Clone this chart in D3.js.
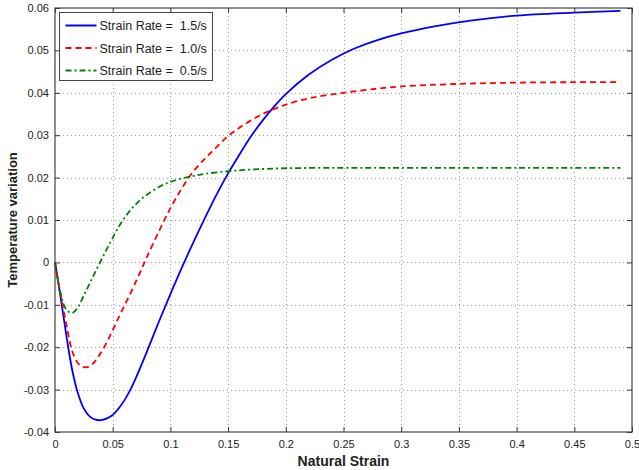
<!DOCTYPE html>
<html>
<head>
<meta charset="utf-8">
<script src="https://cdn.jsdelivr.net/npm/d3@7"></script>
<style>
  html, body { margin: 0; padding: 0; background: #fff; }
  svg { display: block; font-family: "Liberation Sans", Arial, sans-serif; }
</style>
</head>
<body>
<svg id="chart" width="639" height="470"></svg>
<script>
// Temperature variation against natural strain for three strain rates
const xTicks = [0, 0.05, 0.1, 0.15, 0.2, 0.25, 0.3, 0.35, 0.4, 0.45, 0.5];
const yTicks = [-0.04, -0.03, -0.02, -0.01, 0, 0.01, 0.02, 0.03, 0.04, 0.05, 0.06];
const seriesNames = ["Strain Rate =  1.5/s", "Strain Rate =  1.0/s", "Strain Rate =  0.5/s"];

const rate15 = [
  [0, 0], [0.005, -0.0085], [0.01, -0.0175], [0.015, -0.0255], [0.02, -0.031],
  [0.025, -0.0345], [0.03, -0.0363], [0.035, -0.0371], [0.04, -0.0372], [0.045, -0.0368],
  [0.05, -0.036], [0.055, -0.0345], [0.06, -0.0326], [0.065, -0.0302], [0.07, -0.0273],
  [0.08, -0.0208], [0.09, -0.014], [0.1, -0.0075], [0.11, -0.0012], [0.12, 0.0048],
  [0.13, 0.0105], [0.14, 0.016], [0.15, 0.021], [0.16, 0.0255], [0.17, 0.0298],
  [0.18, 0.0335], [0.19, 0.0368], [0.2, 0.0397], [0.22, 0.0443], [0.24, 0.0478],
  [0.26, 0.0505], [0.28, 0.0525], [0.3, 0.054], [0.33, 0.0557], [0.36, 0.057],
  [0.4, 0.0582], [0.45, 0.0589], [0.49, 0.0593]
];
const rate10 = [
  [0, 0], [0.005, -0.0078], [0.01, -0.0148], [0.015, -0.021], [0.02, -0.0238],
  [0.025, -0.0247], [0.03, -0.0245], [0.035, -0.0232], [0.04, -0.0212], [0.045, -0.0188],
  [0.05, -0.016], [0.055, -0.0131], [0.06, -0.0103], [0.065, -0.0075], [0.07, -0.0046],
  [0.075, -0.0016], [0.08, 0.0015], [0.09, 0.0073], [0.1, 0.0128], [0.11, 0.0175],
  [0.12, 0.0215], [0.13, 0.0245], [0.14, 0.0272], [0.15, 0.0298], [0.16, 0.0318],
  [0.17, 0.0335], [0.18, 0.035], [0.19, 0.0362], [0.2, 0.0372], [0.22, 0.0387],
  [0.25, 0.04], [0.28, 0.041], [0.3, 0.0415], [0.35, 0.0421], [0.4, 0.0424],
  [0.45, 0.0425], [0.49, 0.0425]
];
const rate05 = [
  [0, 0], [0.005, -0.0075], [0.01, -0.0112], [0.015, -0.0119], [0.02, -0.0105],
  [0.025, -0.0078], [0.03, -0.005], [0.035, -0.0022], [0.04, 0.0005], [0.045, 0.0032],
  [0.05, 0.0058], [0.055, 0.0083], [0.06, 0.0104], [0.065, 0.0122], [0.07, 0.0137],
  [0.075, 0.015], [0.08, 0.016], [0.09, 0.0178], [0.1, 0.019], [0.11, 0.0198],
  [0.12, 0.0204], [0.13, 0.0209], [0.15, 0.0215], [0.17, 0.0219], [0.2, 0.0222],
  [0.25, 0.0223], [0.3, 0.0223], [0.4, 0.0223], [0.49, 0.0223]
];

const styles = [
  { color: "#0000ff", dash: null },
  { color: "#ff0000", dash: "6,4" },
  { color: "#008000", dash: "6,3,2,3" }
];
const allSeries = [rate15, rate10, rate05];

const svg = d3.select("#chart");
const plotLeft = 55, plotRight = 632, plotTop = 8, plotBottom = 432;

const x = d3.scaleLinear().domain([0, 0.5]).range([plotLeft, plotRight]);
const y = d3.scaleLinear().domain([-0.04, 0.06]).range([plotBottom, plotTop]);

// dotted grid
const grid = svg.append("g");
grid.selectAll("line.gx").data(xTicks.slice(1, -1)).join("line")
  .attr("x1", d => Math.round(x(d)) + 0.5).attr("x2", d => Math.round(x(d)) + 0.5)
  .attr("y1", plotTop).attr("y2", plotBottom)
  .attr("stroke", "#a0a0a0").attr("stroke-width", 1).attr("stroke-dasharray", "1,3");
grid.selectAll("line.gy").data(yTicks.slice(1, -1)).join("line")
  .attr("y1", d => Math.round(y(d)) + 0.5).attr("y2", d => Math.round(y(d)) + 0.5)
  .attr("x1", plotLeft).attr("x2", plotRight)
  .attr("stroke", "#a0a0a0").attr("stroke-width", 1).attr("stroke-dasharray", "1,3");

// curves
const line = d3.line().x(d => x(d[0])).y(d => y(d[1])).curve(d3.curveCatmullRom.alpha(0.5));
allSeries.forEach((s, i) => {
  svg.append("path").datum(s)
    .attr("d", line)
    .attr("fill", "none")
    .attr("stroke", styles[i].color)
    .attr("stroke-width", 1.8)
    .attr("stroke-dasharray", styles[i].dash);
});

// axes with inward ticks on all four sides
const fmt = d => String(+d.toFixed(3));
const axisColor = "#333";
function styleAxis(g) {
  g.select(".domain").remove();
  g.selectAll(".tick line").attr("stroke", axisColor);
  g.selectAll(".tick text").attr("fill", "#222").style("font-size", "11px");
}
svg.append("g").attr("transform", `translate(0,${plotBottom})`)
  .call(d3.axisBottom(x).tickValues(xTicks).tickFormat(fmt).tickSize(-5).tickPadding(8))
  .call(styleAxis);
svg.append("g").attr("transform", `translate(0,${plotTop})`)
  .call(d3.axisTop(x).tickValues(xTicks).tickFormat("").tickSize(-5))
  .call(styleAxis);
svg.append("g").attr("transform", `translate(${plotLeft},0)`)
  .call(d3.axisLeft(y).tickValues(yTicks).tickFormat(fmt).tickSize(-5).tickPadding(6))
  .call(styleAxis);
svg.append("g").attr("transform", `translate(${plotRight},0)`)
  .call(d3.axisRight(y).tickValues(yTicks).tickFormat("").tickSize(-5))
  .call(styleAxis);

// frame
svg.append("rect")
  .attr("x", plotLeft).attr("y", plotTop)
  .attr("width", plotRight - plotLeft).attr("height", plotBottom - plotTop)
  .attr("fill", "none").attr("stroke", "#444").attr("stroke-width", 1.2);

// axis titles
svg.append("text").attr("x", (plotLeft + plotRight) / 2).attr("y", 466)
  .attr("text-anchor", "middle").attr("font-weight", "bold").attr("font-size", 14)
  .attr("fill", "#222").text("Natural Strain");
svg.append("text")
  .attr("transform", `translate(17,${(plotTop + plotBottom) / 2}) rotate(-90)`)
  .attr("text-anchor", "middle").attr("font-weight", "bold").attr("font-size", 13)
  .attr("fill", "#222").text("Temperature variation");

// legend
const lg = svg.append("g").attr("transform", "translate(59.5,12.5)");
lg.append("rect").attr("width", 153).attr("height", 68)
  .attr("fill", "#fff").attr("stroke", "#444").attr("stroke-width", 1);
seriesNames.forEach((name, i) => {
  const cy = 13 + i * 22.5;
  lg.append("line").attr("x1", 6).attr("x2", 37).attr("y1", cy).attr("y2", cy)
    .attr("stroke", styles[i].color).attr("stroke-width", 2)
    .attr("stroke-dasharray", styles[i].dash);
  lg.append("text").attr("x", 40).attr("y", cy + 4.5)
    .attr("font-size", 12.5).attr("fill", "#222")
    .style("white-space", "pre").text(name);
});
</script>
</body>
</html>
